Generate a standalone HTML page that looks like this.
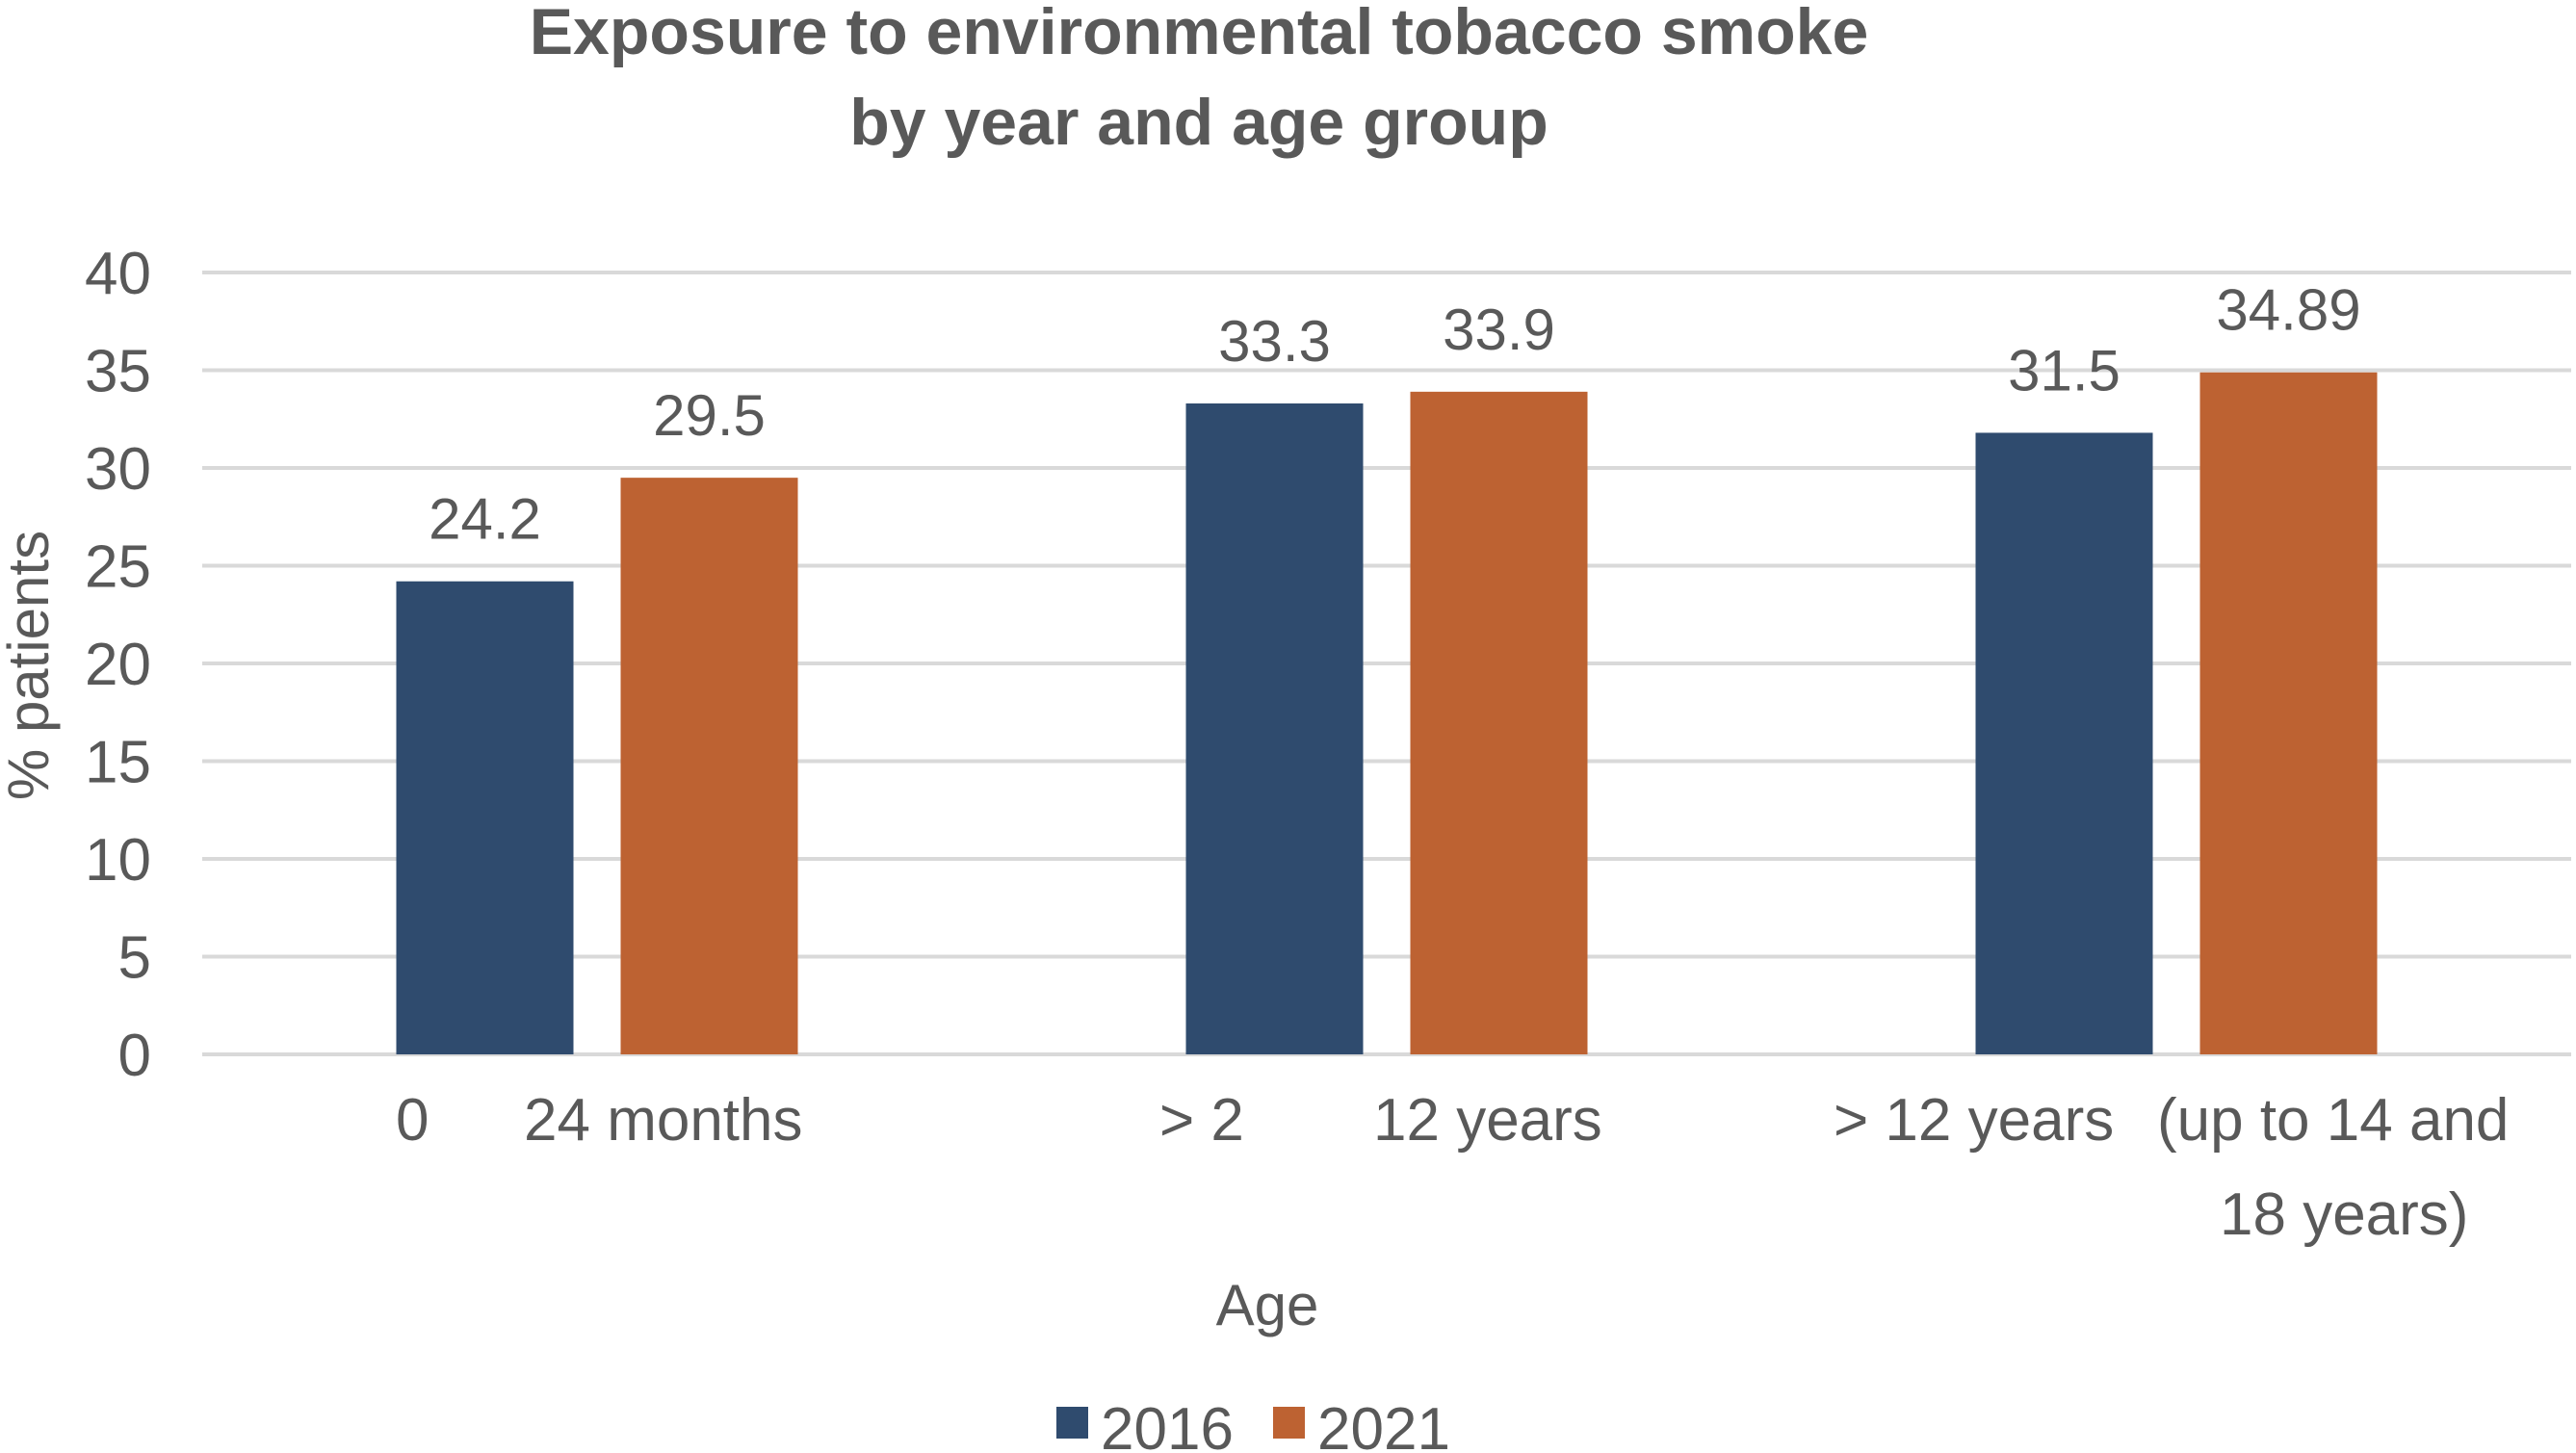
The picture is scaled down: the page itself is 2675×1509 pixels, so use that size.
<!DOCTYPE html>
<html><head><meta charset="utf-8"><style>
html,body{margin:0;padding:0;background:#fff;}
svg{display:block;font-family:"Liberation Sans",Arial,sans-serif;}
</style></head><body>
<svg id="chart" width="2675" height="1509" viewBox="0 0 2675 1509">
<g fill="#595959" font-weight="bold" font-size="68" text-anchor="middle">
<text x="1245" y="56">Exposure to environmental tobacco smoke</text>
<text x="1245" y="150">by year and age group</text>
</g>
<g id="grid"></g>
<g id="yticks"></g>
<g id="bars"></g>
<g id="vals"></g>
<text transform="translate(50,691) rotate(-90)" text-anchor="middle" font-size="60" fill="#595959">% patients</text>
<g font-size="62" fill="#595959">
<text x="411" y="1184">0</text><text x="544" y="1184">24 months</text>
<text x="1204" y="1184">&gt;  2</text><text x="1426" y="1184">12 years</text>
<text x="1904" y="1184">&gt; 12 years</text><text x="2240" y="1184">(up to 14 and</text>
<text x="2305" y="1282">18 years)</text>
</g>
<text x="1316" y="1376" text-anchor="middle" font-size="60" fill="#595959">Age</text>
<g font-size="62" fill="#595959">
<rect x="1097" y="1461" width="33" height="33" fill="#2f4b6e"/>
<text x="1143" y="1505">2016</text>
<rect x="1322" y="1461" width="33" height="33" fill="#bd6232"/>
<text x="1368" y="1505">2021</text>
</g>
</svg>
<script>
const categories = ["0-24 months", "> 2-12 years", "> 12 years"];
const series2016 = [24.2, 33.3, 31.8];
const series2021 = [29.5, 33.9, 34.89];
const labels2016 = ["24.2", "33.3", "31.5"];
const labels2021 = ["29.5", "33.9", "34.89"];
const yTicks = [0, 5, 10, 15, 20, 25, 30, 35, 40];

const NS = "http://www.w3.org/2000/svg";
const X0 = 210, X1 = 2670, Y0 = 1095, Y40 = 283;
const y = v => Y0 - (v / 40) * (Y0 - Y40);
const band = (X1 - X0) / categories.length;
const cx = i => X0 + band * (i + 0.5);
const BW = 184, GAP = 49;
function mk(tag, attrs, parent) {
  const e = document.createElementNS(NS, tag);
  for (const k in attrs) e.setAttribute(k, attrs[k]);
  parent.appendChild(e);
  return e;
}
const grid = document.getElementById('grid');
const yt = document.getElementById('yticks');
yTicks.forEach(t => {
  const l = mk('line', {x1: X0, x2: X1, y1: y(t), y2: y(t), stroke: '#d9d9d9', 'stroke-width': 4}, grid);
  
  
  const tx = mk('text', {x: 157, y: y(t) + 22, 'text-anchor': 'end', 'font-size': 62, fill: '#595959'}, yt);
  tx.textContent = t;
  
  
});
const bars = document.getElementById('bars');
const vals = document.getElementById('vals');
categories.forEach((c, i) => {
  [[series2016, labels2016, '#2f4b6e', -1, '2016'], [series2021, labels2021, '#bd6232', 1, '2021']].forEach(([s, lab, col, side, yr]) => {
    const x = side < 0 ? cx(i) - GAP / 2 - BW : cx(i) + GAP / 2;
    const r = mk('rect', {x: x, y: y(s[i]), width: BW, height: Y0 - y(s[i]), fill: col}, bars);
    
    
    const t = mk('text', {x: x + BW / 2, y: y(s[i]) - 44, 'text-anchor': 'middle', 'font-size': 60, fill: '#595959'}, vals);
    t.textContent = lab[i];
    
    
  });
});
</script>
</body></html>
